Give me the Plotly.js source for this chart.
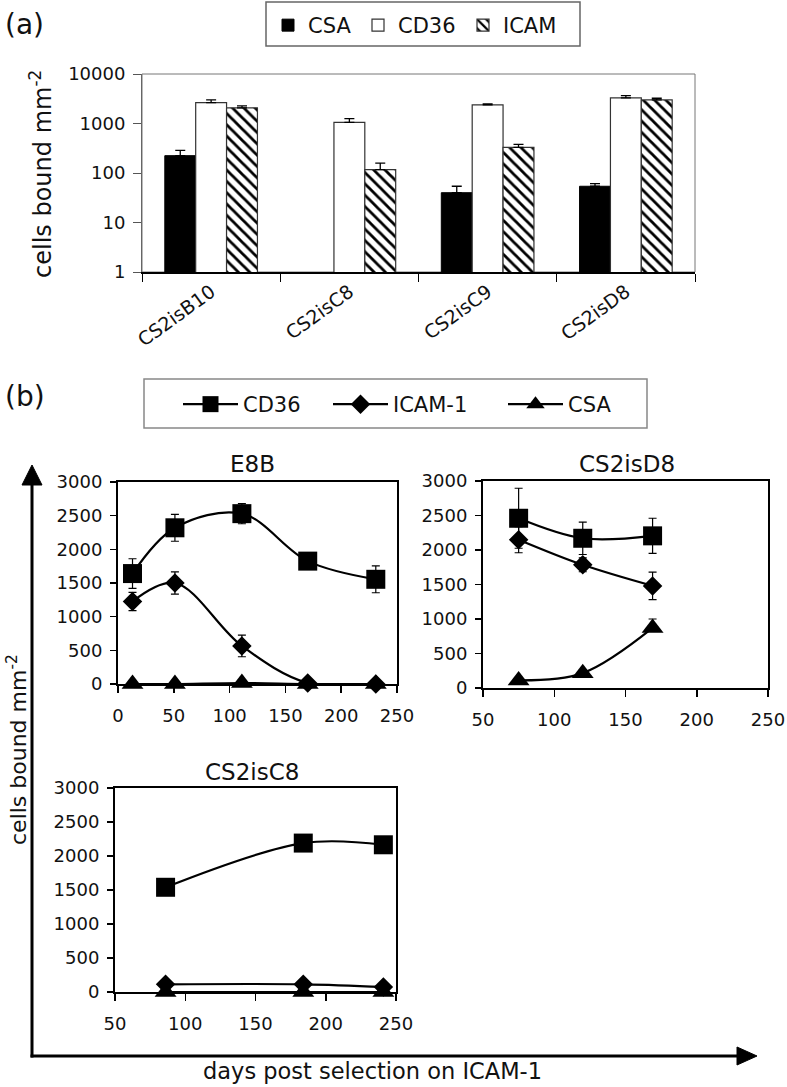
<!DOCTYPE html>
<html><head><meta charset="utf-8">
<script src="https://cdn.plot.ly/plotly-3.0.1.min.js"></script>
<style>html,body{margin:0;padding:0;background:#fff}</style>
</head><body>
<div id="chart" style="width:787px;height:1087px"></div>
<script>
// ---------- Panel (a): bar chart, log scale ----------
const strains = ['CS2isB10', 'CS2isC8', 'CS2isC9', 'CS2isD8'];
const csaA = [224, null, 40, 54];
const csaAErr = [62, 0, 14, 7];
const cd36A = [2650, 1050, 2380, 3290];
const cd36AErr = [350, 210, 110, 370];
const icamA = [2070, 117, 329, 3000];
const icamAErr = [200, 42, 49, 240];
const logTickVals = [1, 10, 100, 1000, 10000];
const logTickText = ['1', '10', '100', '1000', '10000'];

// ---------- Panel (b): E8B ----------
const e8bDays = [13, 51, 111, 170, 231];
const e8bCD36 = [1640, 2320, 2530, 1825, 1555];
const e8bCD36Err = [220, 200, 150, 80, 200];
const e8bICAM = [1225, 1500, 565, 15, 0];
const e8bICAMErr = [135, 165, 160, 0, 0];
const e8bCSA = [0, 0, 15, 0, 0];

// ---------- Panel (b): CS2isD8 ----------
const d8Days = [75, 120, 169];
const d8CD36 = [2460, 2170, 2205];
const d8CD36Err = [435, 235, 255];
const d8ICAM = [2150, 1785, 1480];
const d8ICAMErr = [190, 100, 200];
const d8CSA = [110, 215, 870];
const d8CSAErrUp = [0, 0, 130];

// ---------- Panel (b): CS2isC8 ----------
const c8Days = [86, 184, 241];
const c8CD36 = [1540, 2190, 2165];
const c8ICAM = [113, 113, 74];
const c8CSA = [0, 0, 0];

const seriesNames = ['CD36', 'ICAM-1', 'CSA'];
const barNames = ['CSA', 'CD36', 'ICAM'];

const W = 787, H = 1087;
const fx = p => p / W;
const fy = p => 1 - p / H;
const FONT = 'DejaVu Sans, Liberation Sans, Arial, sans-serif';
const zeros = strains.map(() => 0);

function errUp(arr) {
  return {type: 'data', symmetric: false, array: arr, arrayminus: arr.map(() => 0),
          color: '#000', thickness: 1.3, width: 5};
}

const traces = [
  {type: 'bar', name: barNames[0], x: strains, y: csaA, xaxis: 'x', yaxis: 'y', legend: 'legend2',
   legendwidth: 45,
   marker: {color: '#000', line: {color: '#000', width: 1}}, error_y: errUp(csaAErr)},
  {type: 'bar', name: barNames[1], x: strains, y: cd36A, xaxis: 'x', yaxis: 'y', legend: 'legend2',
   legendwidth: 60,
   marker: {color: '#fff', line: {color: '#333', width: 1.2}}, error_y: errUp(cd36AErr)},
  {type: 'bar', name: barNames[2], x: strains, y: icamA, xaxis: 'x', yaxis: 'y', legend: 'legend2',
   legendwidth: 58,
   marker: {color: '#fff', line: {color: '#333', width: 1.2},
            pattern: {shape: '\\', fgcolor: '#000', bgcolor: '#fff', size: 8, solidity: 0.35}},
   error_y: errUp(icamAErr)}
];

const symbols = ['square', 'diamond', 'triangle-up'];
const sizes = [19, 15, 19];
const legendWidths = [80, 105, 60];
function lineTrace(i, x, y, errBar, xa, ya, show) {
  const t = {type: 'scatter', mode: 'lines+markers', name: seriesNames[i], x: x, y: y,
    xaxis: xa, yaxis: ya, showlegend: show, legend: 'legend', legendwidth: legendWidths[i],
    cliponaxis: false,
    line: {color: '#000', width: 2.2, shape: 'spline', smoothing: 1},
    marker: {symbol: symbols[i], size: sizes[i], color: '#000'}};
  if (errBar) t.error_y = errBar;
  return t;
}
function errSym(arr) {
  return {type: 'data', array: arr, color: '#000', thickness: 1.2, width: 4};
}
traces.push(
  lineTrace(0, e8bDays, e8bCD36, errSym(e8bCD36Err), 'x2', 'y2', true),
  lineTrace(1, e8bDays, e8bICAM, errSym(e8bICAMErr), 'x2', 'y2', true),
  lineTrace(2, e8bDays, e8bCSA, null, 'x2', 'y2', true),
  lineTrace(0, d8Days, d8CD36, errSym(d8CD36Err), 'x3', 'y3', false),
  lineTrace(1, d8Days, d8ICAM, errSym(d8ICAMErr), 'x3', 'y3', false),
  lineTrace(2, d8Days, d8CSA, Object.assign(errUp(d8CSAErrUp), {thickness: 1.2, width: 4}), 'x3', 'y3', false),
  lineTrace(0, c8Days, c8CD36, null, 'x4', 'y4', false),
  lineTrace(1, c8Days, c8ICAM, null, 'x4', 'y4', false),
  lineTrace(2, c8Days, c8CSA, null, 'x4', 'y4', false)
);

function bx(dom, range) {
  return {domain: dom, range: range, dtick: 50, tick0: 0, showline: true, linecolor: '#000', linewidth: 2,
          mirror: true, ticks: 'outside', ticklen: 7, tickwidth: 1.5, tickcolor: '#000',
          showgrid: false, zeroline: false, automargin: false, fixedrange: true,
          tickfont: {size: 18, color: '#111'}, ticklabelstandoff: 7};
}
function by(dom, anchor) {
  return {domain: dom, range: [0, 3000], dtick: 500, showline: true, linecolor: '#000', linewidth: 2,
          mirror: true, ticks: 'outside', ticklen: 6, tickwidth: 1.5, tickcolor: '#000', anchor: anchor,
          showgrid: false, zeroline: false, automargin: false, fixedrange: true,
          tickfont: {size: 18, color: '#111'}, ticklabelstandoff: 4};
}

// arrow geometry (the big L-shaped axes of panel b)
const arrowX = 32, arrowTop = 465, arrowY = 1056, arrowRight = 757;
function tri(points) {
  return 'M ' + points.map(p => fx(p[0]) + ',' + fy(p[1])).join(' L ') + ' Z';
}

const layout = {
  width: W, height: H, autosize: false,
  margin: {l: 0, r: 0, t: 0, b: 0, pad: 0},
  paper_bgcolor: '#fff', plot_bgcolor: '#fff',
  font: {family: FONT, color: '#111'},
  barmode: 'group', bargap: 0.33, bargroupgap: 0,
  xaxis: {domain: [fx(142), fx(695)], type: 'category', anchor: 'y', tickson: 'boundaries',
          ticks: 'outside', ticklen: 8, tickwidth: 1, tickcolor: '#000', showline: true,
          linecolor: '#000', linewidth: 1.5, tickangle: -36, showgrid: false, automargin: false,
          fixedrange: true, tickfont: {size: 19, color: '#111'}},
  yaxis: {domain: [fy(272), fy(74)], type: 'log', range: [0, 4], anchor: 'x',
          tickvals: logTickVals, ticktext: logTickText, ticks: 'outside', ticklen: 8, tickwidth: 1,
          tickcolor: '#555', showline: true, linecolor: '#666', linewidth: 1, showgrid: false,
          zeroline: false, automargin: false, fixedrange: true, tickfont: {size: 18, color: '#111'},
          ticklabelstandoff: 4},
  xaxis2: Object.assign(bx([fx(118), fx(397)], [0, 250]), {anchor: 'y2'}),
  yaxis2: by([fy(684), fy(482)], 'x2'),
  xaxis3: Object.assign(bx([fx(483), fx(768)], [50, 250]), {anchor: 'y3'}),
  yaxis3: by([fy(688), fy(481)], 'x3'),
  xaxis4: Object.assign(bx([fx(115), fx(396)], [50, 250]), {anchor: 'y4'}),
  yaxis4: by([fy(992), fy(788)], 'x4'),
  legend: {orientation: 'h', x: fx(178), y: fy(384), xanchor: 'left', yanchor: 'top',
           borderwidth: 0, bgcolor: 'rgba(0,0,0,0)', font: {size: 21, color: '#111'},
           itemwidth: 55, traceorder: 'normal'},
  legend2: {orientation: 'h', x: fx(268), y: fy(5), xanchor: 'left', yanchor: 'top',
            borderwidth: 0, bgcolor: 'rgba(0,0,0,0)', font: {size: 21, color: '#111'},
            traceorder: 'normal'},
  shapes: [
    {type: 'rect', xref: 'x domain', yref: 'y domain', x0: 0, x1: 1, y0: 0, y1: 1,
     line: {color: '#777', width: 1}, layer: 'below'},
    {type: 'rect', xref: 'paper', yref: 'paper', x0: fx(266), x1: fx(580), y0: fy(46), y1: fy(2),
     line: {color: '#666', width: 1.5}, layer: 'below'},
    {type: 'rect', xref: 'paper', yref: 'paper', x0: fx(144), x1: fx(647), y0: fy(428), y1: fy(379),
     line: {color: '#888', width: 1.5}, layer: 'below'},
    {type: 'line', xref: 'paper', yref: 'paper', x0: fx(arrowX), x1: fx(arrowX),
     y0: fy(arrowY + 1.5), y1: fy(arrowTop + 14), line: {color: '#000', width: 3}},
    {type: 'line', xref: 'paper', yref: 'paper', x0: fx(arrowX - 1.5), x1: fx(arrowRight - 14),
     y0: fy(arrowY), y1: fy(arrowY), line: {color: '#000', width: 3}},
    {type: 'path', xref: 'paper', yref: 'paper', fillcolor: '#000', line: {color: '#000', width: 1},
     path: tri([[arrowX - 10, arrowTop + 20], [arrowX, arrowTop], [arrowX + 10, arrowTop + 20]])},
    {type: 'path', xref: 'paper', yref: 'paper', fillcolor: '#000', line: {color: '#000', width: 1},
     path: tri([[arrowRight - 20, arrowY - 9], [arrowRight, arrowY], [arrowRight - 20, arrowY + 9]])}
  ],
  annotations: [
    {text: '(a)', xref: 'paper', yref: 'paper', x: fx(3), y: fy(24), xanchor: 'left', yanchor: 'middle',
     showarrow: false, font: {size: 28}},
    {text: '(b)', xref: 'paper', yref: 'paper', x: fx(3), y: fy(397), xanchor: 'left', yanchor: 'middle',
     showarrow: false, font: {size: 28}},
    {text: 'cells bound mm<sup>-2</sup>', xref: 'paper', yref: 'paper', x: fx(41), y: fy(174),
     xanchor: 'center', yanchor: 'middle', textangle: -90, showarrow: false, font: {size: 24}},
    {text: 'E8B', xref: 'paper', yref: 'paper', x: fx(252), y: fy(464), xanchor: 'center', yanchor: 'middle',
     showarrow: false, font: {size: 23}},
    {text: 'CS2isD8', xref: 'paper', yref: 'paper', x: fx(627), y: fy(464), xanchor: 'center', yanchor: 'middle',
     showarrow: false, font: {size: 23}},
    {text: 'CS2isC8', xref: 'paper', yref: 'paper', x: fx(252), y: fy(772), xanchor: 'center', yanchor: 'middle',
     showarrow: false, font: {size: 23}},
    {text: 'cells bound mm<sup>-2</sup>', xref: 'paper', yref: 'paper', x: fx(17), y: fy(750),
     xanchor: 'center', yanchor: 'middle', textangle: -90, showarrow: false, font: {size: 22}},
    {text: 'days post selection on ICAM-1', xref: 'paper', yref: 'paper', x: fx(372), y: fy(1071),
     xanchor: 'center', yanchor: 'middle', showarrow: false, font: {size: 22.5}}
  ]
};

Plotly.newPlot('chart', traces, layout, {displayModeBar: false, staticPlot: true});
</script>
</body></html>
